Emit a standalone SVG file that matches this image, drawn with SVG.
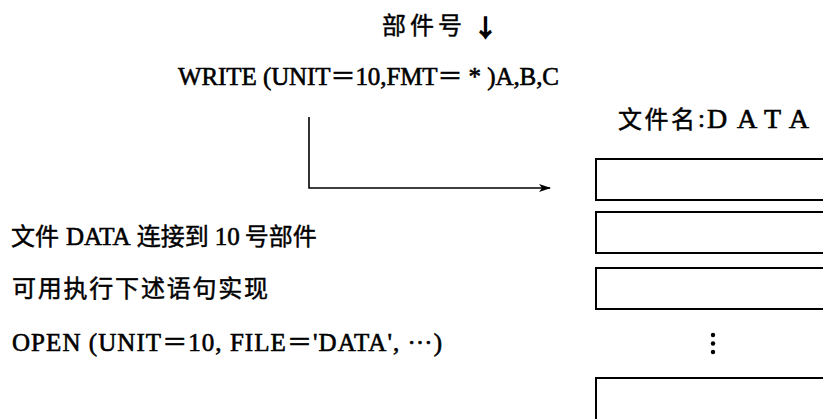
<svg xmlns="http://www.w3.org/2000/svg" width="823" height="419" viewBox="0 0 823 419">
<style>
.lat{font-family:"Liberation Serif","Noto Sans CJK SC",serif;font-weight:normal;fill:#000;stroke:#000;stroke-width:0.6}
.cjk{font-family:"Noto Sans CJK SC","Liberation Serif",sans-serif;font-weight:normal;fill:#000;stroke:#000;stroke-width:0.45}
.box{fill:none;stroke:#000;stroke-width:2}
.conn{fill:none;stroke:#000;stroke-width:1.6}
</style>
<defs>
<marker id="ah" markerWidth="12" markerHeight="10" refX="11" refY="5" orient="auto" markerUnits="userSpaceOnUse">
<path d="M0,1 L12,5 L0,9 L3,5 Z" fill="#000"/>
</marker>
</defs>
<g id="unit-label">
<text class="cjk" x="382" y="34" font-size="24" textLength="80" lengthAdjust="spacing">部件号</text>
<text class="cjk" x="474" y="36" font-size="23" style="stroke-width:1.6">↓</text>
</g>
<g id="write-stmt">
<text class="lat" x="178" y="85" font-size="25" textLength="381" lengthAdjust="spacing">WRITE (UNIT＝10,FMT＝ * )A,B,C</text>
</g>
<g id="file-label">
<text class="cjk" x="618" y="128" font-size="24" textLength="77" lengthAdjust="spacing">文件名</text>
<text class="lat" x="698" y="127" font-size="25">:</text>
<text class="lat" x="707" y="128" font-size="28" textLength="102" lengthAdjust="spacing">DATA</text>
</g>
<g id="desc">
<text class="cjk" x="11" y="245" font-size="24"><tspan>文件</tspan><tspan class="lat" dx="7" font-size="25">DATA</tspan><tspan dx="6">连接到</tspan><tspan class="lat" dx="6" font-size="25">10</tspan><tspan dx="5">号部件</tspan></text>
<text class="cjk" x="12" y="297" font-size="24" textLength="256" lengthAdjust="spacing">可用执行下述语句实现</text>
<text class="lat" x="12" y="351" font-size="25" textLength="430" lengthAdjust="spacing">OPEN (UNIT＝10, FILE＝'DATA', <tspan dy="-7">…</tspan><tspan dy="7">)</tspan></text>
</g>
<g id="file-records">
<rect class="box" x="596" y="159" width="240" height="41"/>
<rect class="box" x="596" y="212" width="240" height="41"/>
<rect class="box" x="596" y="268" width="240" height="41"/>
<circle cx="713" cy="335" r="2.2"/>
<circle cx="713" cy="343.5" r="2.2"/>
<circle cx="713" cy="352" r="2.2"/>
<rect class="box" x="596" y="378" width="240" height="60"/>
</g>
<g id="connectors">
<path class="conn" d="M309,117 V188 H550" marker-end="url(#ah)"/>
</g>
</svg>
